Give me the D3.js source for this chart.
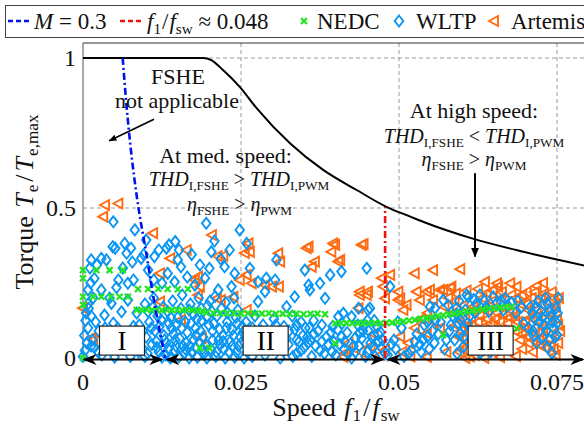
<!DOCTYPE html>
<html><head><meta charset="utf-8">
<script src="https://cdn.jsdelivr.net/npm/d3@7"></script>
<style>body{margin:0;background:#fff}</style>
</head><body><svg id="c" width="584" height="428" style="display:block"></svg>
<script>
// ---------- data ----------
const xTicks=[0,0.025,0.05,0.075];
const xTickLabels=["0","0.025","0.05","0.075"];
const yTicks=[0,0.5,1];
const yTickLabels=["0","0.5","1"];
// torque limit curve (speed, torque)
const limitCurve=[[0,1],[.019,1],[.0203,.993],[.02215,.96],[.0248,.904],[.0275,.832],[.03275,.716],[.038,.627],[.0433,.56],[.048,.504],[.0517,.472],[.0538,.454],[.0618,.397],[.0697,.354],[.075,.328],[.0795,.307]];
// modulation index M = 0.3 boundary
const mLine=[[.00628,1],[.0069,.838],[.0077,.671],[.00875,.504],[.0101,.338],[.0114,.171],[.013,0]];
const redX=0.0478, redTop=0.503;
const regionBounds=[0,0.0128,0.0478,0.08];
const regionLabels=["I","II","III"];
const regionLabelX=[0.00617,0.0289,0.0645];
const nedc=[
[0,0],[0,.293],[.0021,.293],[.0042,.293],[.0063,.293],[0,.266],
[0,.204],[.0016,.204],[.0029,.204],[.0044,.204],[.0058,.204],[.0071,.204],[0,.177],
[.0087,.23],[.0103,.23],[.0119,.231],[.0134,.23],[.015,.229],[.0166,.23],
[.0085,.16],[.0093,.16],[.0101,.161],[.0109,.16],[.0117,.16],[.0125,.159],[.0133,.16],[.0141,.16],[.0149,.16],[.0157,.159],[.0165,.16],[.0173,.16],[.0181,.158],[.0189,.157],
[.0195,.151],[.0206,.15],[.0217,.149],[.0228,.15],[.0239,.149],[.025,.148],[.0261,.149],[.0272,.148],[.0283,.148],[.0294,.149],[.0305,.147],[.0316,.148],[.0327,.147],[.0338,.148],[.0349,.146],[.036,.147],[.0371,.148],[.0383,.146],
[.0185,.033],[.02,.033],[.0399,.049],
[.0399,.116],[.0408,.116],[.0417,.117],[.0426,.116],[.0435,.116],[.0444,.117],[.0453,.116],[.0462,.117],[.0471,.116],[.048,.117],[.0489,.118],
[.0498,.12],[.0507,.122],[.0516,.125],[.0525,.127],[.0534,.131],[.0543,.133],[.0552,.136],[.0561,.14],[.057,.142],[.0579,.146],[.0588,.148],[.0597,.151],[.0606,.155],[.0615,.157],[.0624,.16],[.0633,.162],[.0642,.165],[.0651,.166],[.066,.168],[.0669,.17],[.0678,.171],
[.057,.077],[.0686,.099]
];
const wltp=[
[0,.005],[.0003,.025],[.0006,.05],[.0002,.075],[.0008,.1],[.0004,.125],[.0013,.14],[.0009,.165],[.0008,.18],[.0016,.2],[.0008,.227],[.0012,.25],[.0018,.265],[.0011,.3],[.0013,.327],[.0022,.31],[.0029,.332],[.0029,.227],[.0025,.09],[.0015,.06],[.003,.01],[.0005,.15],[.002,.12],[.0018,.035],
[.0034,.143],[.0037,.327],[.0045,.182],[.0047,.371],[.0048,.454],[.0048,.116],[.0051,.366],[.0056,.26],[.0061,.154],[.0066,.382],[.0069,.349],[.0071,.249],[.0071,.193],[.0076,.366],[.008,.26],[.0082,.427],[.0035,.1],[.0055,.1],[.008,.105],[.0087,.06],[.0088,.02],[.0075,.005],[.005,.003],[.0042,.2],[.0063,.3],[.0085,.15],[.0053,.235],[.0078,.32],
[.0092,.332],[.0096,.345],[.01,.393],[.0103,.293],[.0113,.338],[.012,.36],[.0132,.366],[.0136,.377],[.0134,.282],[.0145,.254],[.0146,.388],[.0152,.36],[.015,.327],[.0155,.304],[.0165,.27],[.0177,.243],[.0185,.31],[.0193,.266],[.0195,.449],[.02,.299],[.0203,.354],[.0214,.227],[.0218,.33],[.0224,.304],[.0235,.238],[.024,.282],[.0248,.427],[.0208,.39],[.0172,.345],[.0125,.25],[.0112,.26],[.0232,.36],
[.0125,.003],[.0138,0],[.0152,.004],[.0168,0],[.0181,.003],[.0196,0],[.021,.005],[.0225,0],[.024,.003],[.0255,0],
[.0095,.03],[.0109,.045],[.012,.02],[.0132,.05],[.0145,.025],[.0158,.04],[.0172,.02],[.0185,.05],[.0202,.03],[.0217,.045],[.0231,.02],[.0246,.04],
[.01,.07],[.0114,.09],[.0128,.075],[.014,.1],[.0153,.065],[.0165,.085],[.0178,.1],[.019,.07],[.0205,.09],[.0221,.075],[.0236,.095],[.0249,.07],
[.0105,.12],[.0118,.14],[.0124,.127],[.0136,.115],[.015,.135],[.0162,.12],[.0175,.145],[.0188,.125],[.0199,.11],[.0212,.14],[.0228,.12],[.0242,.135],
[.0098,.18],[.0112,.2],[.0127,.17],[.0142,.19],[.0157,.21],[.017,.18],[.0183,.2],[.0197,.175],[.0209,.205],[.0226,.185],[.0239,.2],
[.0131,.01],[.0146,.06],[.016,.015],[.0175,.06],[.0192,.015],[.0215,.06],[.0233,.055],[.0108,.1],[.0134,.155],[.0168,.16],[.0204,.155],[.0219,.165],[.0245,.16],[.0116,.055],[.0186,.09],
[.0102,.015],[.0117,.035],[.0129,.06],[.0143,.08],[.0156,.1],[.0169,.04],[.0179,.075],[.0194,.045],[.0207,.115],[.0223,.03],[.0238,.075],[.0252,.105],[.0103,.155],[.0121,.105],[.0139,.135],[.0155,.165],[.0171,.115],[.0187,.165],[.0201,.19],[.0216,.095],[.0229,.15],[.0244,.115],[.0111,.17],[.0148,.11],[.0163,.05],[.018,.13],[.0196,.135],[.0211,.02],[.0227,.1],[.0243,.02],
[.0013,.04],[.0024,.02],[.0038,.06],[.0062,.07],[.0072,.04],[.0089,.11],[.0095,.09],[.0098,.005],[.0135,.03],[.0147,.04],[.0162,.03],[.0178,.035],[.0189,.03],[.0205,.06],[.0222,.055],[.0236,.04],[.025,.05],[.0253,.085],
[.026,.02],[.0275,.04],[.0288,.01],[.03,.03],[.0312,0],[.0325,.045],[.0338,.015],[.035,.035],[.0362,.005],[.0375,.025],[.0388,.045],[.04,.01],[.0413,.03],[.0425,0],[.0437,.04],[.045,.02],[.0462,.005],[.0472,.035],
[.0265,.07],[.0282,.09],[.0295,.06],[.0308,.085],[.0322,.065],[.0335,.095],[.0348,.075],[.036,.06],[.0372,.09],[.0385,.07],[.0397,.054],[.0418,.085],[.043,.065],[.0443,.09],[.0457,.07],[.0468,.055],
[.0258,.12],[.0272,.14],[.0285,.11],[.0302,.13],[.0318,.105],[.0331,.14],[.0345,.12],[.0358,.1],[.0404,.138],[.0425,.138],[.0435,.11],[.045,.125],[.0465,.105],
[.0268,.005],[.0318,.025],[.0342,.055],[.0368,.04],[.0394,.02],[.0431,.02],[.0455,.05],[.0478,.015],[.0292,.035],
[.0332,.005],[.0345,.025],[.0356,.05],[.0365,.08],[.0378,.055],[.0382,.015],[.0392,.085],[.0406,.045],[.0409,.07],[.042,.015],[.0428,.04],[.0441,.065],[.0447,.005],[.0459,.035],[.0467,.08],[.0474,.06],[.0352,.1],[.0365,.125],[.0378,.11],[.0395,.105],[.041,.115],[.0445,.11],[.0461,.125],[.0326,.09],[.0338,.11],
[.0268,.1],[.0285,.06],[.0299,.08],[.0315,.05],[.0305,.11],[.0338,.06],[.0355,.07],[.0403,.095],[.0414,.055],[.0438,.085],[.0452,.09],[.0471,.085],
[.0259,.382],[.0264,.299],[.0277,.254],[.029,.266],[.0304,.26],[.0306,.327],[.0288,.221],[.0277,.188],[.0322,.171],[.0335,.204],[.0351,.293],[.0357,.243],[.0359,.227],[.0375,.249],[.0383,.199],[.0391,.277],[.0409,.288],[.0412,.149],[.0436,.166],[.0449,.299],[.0454,.166],[.0486,.238],[.0451,.16],
[.0482,.01],[.0495,.03],[.0508,.005],[.052,.025],[.0533,.045],[.0545,.07],[.0553,.09],[.0538,.06],[.0528,.08],[.0548,.03],[.0556,.05],[.0515,.015],[.0488,.045],[.0557,.166],[.0549,.171],[.0504,.1],[.054,.11],[.0558,.127],[.0545,.12],[.0562,.08],[.0535,.02],[.0498,.12],[.0492,.06],[.0525,.055],
[.057,.193],[.0591,.166],[.0594,.116],[.0597,.082],[.0602,.038],[.0628,.016],[.061,.204],[.0628,.21],[.0649,.204],[.0668,.199],[.0607,.21],[.0597,.127],[.0603,.1],[.0615,.06],[.0585,.14],[.058,.09],[.0575,.06],[.0566,.12],[.0622,.18],[.0638,.17],[.0655,.185],[.0672,.175],[.0688,.19],[.0697,.116],[.0685,.15],[.0632,.045],[.0645,.02],[.066,.035],[.0612,.14],
[.0578,.175],[.0595,.19],[.0618,.195],[.0635,.19],[.0662,.19],[.0678,.185],[.0592,.145],[.0605,.16],[.062,.15],[.0642,.155],[.0665,.16],[.0694,.17],[.0582,.11],[.0608,.115],[.0588,.06],[.0602,.07],[.0572,.03],[.0592,.015],[.0618,.03],
[.0708,.17],[.0715,.13],[.0712,.09],[.072,.19],[.0725,.155],[.073,.11],[.0728,.07],[.0735,.18],[.074,.14],[.0745,.1],[.0738,.06],[.0748,.165],[.075,.116],[.075,.077],[.0742,.016],[.0752,.2],[.0718,.05],[.0732,.2],
[.0711,.15],[.0722,.12],[.0733,.09],[.0743,.12],[.0751,.15],[.0717,.17],[.0737,.16],[.0727,.135],[.0747,.07],[.0705,.1],[.0713,.075],[.0735,.035]
];
const artemis=[
[.0035,.51],[.0056,.515],[.0032,.471],[.0111,.416],[.0204,.41],[.0164,.36],[.0138,.332],[.0222,.34],[.0213,.34],[.0182,.271],[.0185,.238],[.0177,.26],[.0122,.282],[.0016,.06],[.0013,.066],[0,.166],[.0188,.067],[.0155,.127],[.0218,.193],[.0238,.204],[.0122,.188],[.0182,.21],[.0212,.199],[.0248,.26],[.0256,.35],
[.0262,.382],[.0264,.354],[.0309,.349],[.0312,.321],[.0354,.366],[.0357,.371],[.0396,.382],[.0399,.377],[.0393,.354],[.0367,.321],[.0362,.304],[.0407,.327],[.0404,.321],[.0441,.377],[.0444,.38],[.0267,.249],[.0288,.243],[.0299,.238],[.031,.238],[.0259,.277],[.0259,.16],[.0438,.21],[.0449,.21],[.0438,.221],[.0451,.221],[.0473,.266],[.0475,.238],[.0478,.199],[.0436,.166],[.0415,.016],[.0412,.004],[.0478,.027],[.042,.05],[.044,.02],[.046,.08],[.047,.01],[.0455,.04],[.0486,.277],
[.0499,.221],[.0502,.199],[.0499,.193],[.0512,.177],[.0507,.16],[.0502,.071],[.0525,.282],[.0554,.293],[.0597,.296],[.0528,.221],[.0544,.221],[.0549,.227],[.0565,.227],[.057,.227],[.0581,.233],[.0583,.238],[.0533,.193],[.0554,.193],[.0544,.082],[.0544,.004],[.0505,.02],[.0515,.05],[.0525,.1],[.0535,.13],[.0545,.15],[.0555,.12],[.0565,.1],[.0575,.02],[.0518,.005],
[.0636,.254],[.0655,.249],[.0676,.249],[.0686,.238],[.0657,.238],[.0639,.216],[.0618,.171],[.0747,.171],
[.0585,.15],[.059,.11],[.0595,.07],[.06,.03],[.0605,.13],[.061,.09],[.0615,.05],[.062,.01],[.0625,.12],[.063,.08],[.0588,.19],[.0602,.175],[.0618,.16],
[.0635,.16],[.064,.13],[.0648,.19],[.0655,.15],[.066,.12],[.0668,.17],[.0675,.135],[.068,.155],[.0688,.12],[.0645,.115],[.0662,.2],[.0678,.21],[.0632,.2],[.0692,.18],
[.0612,.005],[.0635,0],[.066,.003],[.0685,.006],[.0695,.03],[.0605,0],
[.0695,.08],[.07,.12],[.0705,.16],[.071,.2],[.0715,.1],[.072,.14],[.0725,.18],[.073,.215],[.0735,.125],[.074,.16],[.0745,.2],[.0705,.05],[.0712,.02],[.0722,.06],[.0732,.035],[.0742,.08],[.075,.13],[.0752,.05],[.0748,.01],[.0702,.22],[.0718,.24],[.0728,.25],
[.0598,.09],[.0608,.05],[.0622,.09],[.0628,.14],[.0642,.17],[.0652,.13],[.0664,.145],[.0672,.115],[.0684,.14],[.0698,.1],[.0708,.135],[.0718,.16],[.0728,.1],[.0738,.14],[.0748,.18],[.0702,.18],[.0712,.06],[.0725,.04],[.0738,.065],[.0745,.03],[.0692,.06],[.0596,.02],[.0609,.11],[.0628,.04],[.0755,.09],[.0753,.2],[.0742,.22],[.0733,.19],
[.0615,.11],[.0632,.1],[.065,.095],[.0668,.09],[.0688,.085],[.0705,.07],[.0722,.085],[.074,.045],[.0752,.11],[.0725,.2],[.0715,.22],[.0695,.21],[.0685,.2],[.0663,.22],[.0648,.225],[.0625,.23],[.0607,.225],[.059,.215],[.0578,.2],[.0572,.17]
];

// ---------- drawing ----------
const FONT="'Liberation Serif', serif";
const svg=d3.select("#c");
const x=d3.scaleLinear().domain([0,0.08]).range([83,588.6]);
const y=d3.scaleLinear().domain([0,1.05]).range([358,43]);
const BLUE="#0a96f2", ORANGE="#ff6a10", GREEN="#22e622";
const diamond="M0,-5.5L4.3,0L0,5.5L-4.3,0Z", tri="M-5,0L4,-5L4,5Z", cross="M-3,-3L3,3M-3,3L3,-3";

const defs=svg.append("defs");
defs.append("marker").attr("id","ah").attr("viewBox","0 0 10 10").attr("refX",9).attr("refY",5)
 .attr("markerWidth",5).attr("markerHeight",5).attr("orient","auto-start-reverse").attr("markerUnits","strokeWidth")
 .append("path").attr("d","M0,1L10,5L0,9Z").attr("fill","#000");
defs.append("marker").attr("id","ah2").attr("viewBox","0 0 10 10").attr("refX",9).attr("refY",5)
 .attr("markerWidth",7).attr("markerHeight",7).attr("orient","auto-start-reverse").attr("markerUnits","strokeWidth")
 .append("path").attr("d","M0,1L10,5L0,9L3,5Z").attr("fill","#000");

// grid
const grid=svg.append("g").attr("stroke","#9a9a9a").attr("stroke-width",1).attr("stroke-dasharray","4,3");
xTicks.filter(d=>d>0).forEach(d=>grid.append("line").attr("x1",x(d)).attr("x2",x(d)).attr("y1",y(1.05)).attr("y2",y(0)));
yTicks.filter(d=>d>0).forEach(d=>grid.append("line").attr("x1",x(0)).attr("x2",584).attr("y1",y(d)).attr("y2",y(d)));

// frame
svg.append("line").attr("x1",x(0)).attr("x2",584).attr("y1",y(1.05)).attr("y2",y(1.05)).attr("stroke","#333");
svg.append("line").attr("x1",x(0)).attr("x2",x(0)).attr("y1",y(1.05)).attr("y2",y(0)+2).attr("stroke","#555");

// tick labels
const tl=svg.append("g").attr("font-size",24).attr("fill","#111");
xTicks.forEach((d,i)=>tl.append("text").attr("x",x(d)).attr("y",y(0)+32).attr("text-anchor","middle").text(xTickLabels[i]));
yTicks.forEach((d,i)=>tl.append("text").attr("x",x(0)-7).attr("y",y(d)+8).attr("text-anchor","end").text(yTickLabels[i]));

// scatter
const sc=svg.append("g").attr("fill","none");
sc.selectAll(".a").data(artemis).join("path").attr("d",tri).attr("stroke",ORANGE).attr("stroke-width",1.9)
  .attr("transform",d=>`translate(${x(d[0])},${y(d[1])})`);
sc.selectAll(".w").data(wltp).join("path").attr("d",diamond).attr("stroke",BLUE).attr("stroke-width",1.9)
  .attr("transform",d=>`translate(${x(d[0])},${y(d[1])})`);
sc.selectAll(".n").data(nedc).join("path").attr("d",cross).attr("stroke",GREEN).attr("stroke-width",2.2)
  .attr("transform",d=>`translate(${x(d[0])},${y(d[1])})`);

// curves
const line=d3.line().x(d=>x(d[0])).y(d=>y(d[1]));
svg.append("path").datum(limitCurve).attr("d",line.curve(d3.curveMonotoneX)).attr("fill","none").attr("stroke","#000").attr("stroke-width",2);
svg.append("path").datum(mLine).attr("d",d3.line().x(d=>x(d[0])).y(d=>y(d[1])).curve(d3.curveCatmullRom)).attr("fill","none")
  .attr("stroke","#0010ee").attr("stroke-width",2.6).attr("stroke-dasharray","7,3,2,3");
svg.append("line").attr("x1",x(redX)).attr("x2",x(redX)).attr("y1",y(0)).attr("y2",y(redTop))
  .attr("stroke","#ee1111").attr("stroke-width",2.6).attr("stroke-dasharray","7,3,2,3");

// region arrows along zero line
const ay=y(0)+1.5;
[[regionBounds[0],regionBounds[1]-0.0003],[regionBounds[1]+0.0003,regionBounds[2]-0.0003],[regionBounds[2]+0.0003,regionBounds[3]]].forEach(r=>{
  svg.append("line").attr("x1",x(r[0])+1).attr("x2",Math.min(x(r[1]),583)).attr("y1",ay).attr("y2",ay)
   .attr("stroke","#000").attr("stroke-width",2).attr("marker-start","url(#ah2)").attr("marker-end","url(#ah2)");
});

// region boxes
regionLabels.forEach((t,i)=>{
  const cx=x(regionLabelX[i]), cy=y(0.058);
  svg.append("rect").attr("x",cx-22.5).attr("y",cy-14.5).attr("width",45).attr("height",29).attr("fill","#fff").attr("stroke","#222").attr("stroke-width",1.2);
  svg.append("text").attr("x",cx).attr("y",cy+9).attr("text-anchor","middle").attr("font-size",27).text(t);
});

// rich text helper
function rich(g,parts,size){
  const t=g.append("text").attr("font-size",size).attr("fill","#111");
  let shift=0;
  parts.forEach(p=>{
    const s=p.sub?size*0.2:0;
    const ts=t.append("tspan").text(p.t).attr("dy",s-shift);
    shift=s;
    if(p.sub) ts.attr("font-size",size*0.66);
    if(p.i) ts.attr("font-style","italic");
    if(p.dx) ts.attr("dx",p.dx);
  });
  return t;
}

// annotations
const an=svg.append("g");
function label(txt,xv,yv,size){an.append("text").attr("x",x(xv)).attr("y",y(yv)).attr("text-anchor","middle").attr("font-size",size).attr("fill","#111").text(txt);}
label("FSHE",0.01503,0.913,22);
label("not applicable",0.01487,0.833,22);
label("At med. speed:",0.02255,0.65,22);
label("At high speed:",0.06187,0.8,22);
const thdGt=[{t:"THD",i:true},{t:"I,FSHE",sub:true},{t:" > "},{t:"THD",i:true},{t:"I,PWM",sub:true}];
const thdLt=[{t:"THD",i:true},{t:"I,FSHE",sub:true},{t:" < "},{t:"THD",i:true},{t:"I,PWM",sub:true}];
const etaGt=[{t:"η",i:true},{t:"FSHE",sub:true},{t:" > "},{t:"η",i:true},{t:"PWM",sub:true}];
rich(an,thdGt,20).attr("x",x(0.02468)).attr("y",y(0.572)).attr("text-anchor","middle");
rich(an,etaGt,20).attr("x",x(0.02476)).attr("y",y(0.49)).attr("text-anchor","middle");
rich(an,thdLt,20).attr("x",x(0.06187)).attr("y",y(0.716)).attr("text-anchor","middle");
rich(an,etaGt,20).attr("x",x(0.06187)).attr("y",y(0.64)).attr("text-anchor","middle");
an.append("line").attr("x1",x(0.01123)).attr("y1",y(0.796)).attr("x2",x(0.00416)).attr("y2",y(0.724))
  .attr("stroke","#000").attr("stroke-width",1.6).attr("marker-end","url(#ah)");
an.append("line").attr("x1",x(0.06203)).attr("y1",y(0.616)).attr("x2",x(0.06203)).attr("y2",y(0.338))
  .attr("stroke","#000").attr("stroke-width",2).attr("marker-end","url(#ah)");

// axis labels
rich(svg,[{t:"Speed "},{t:"f",i:true,dx:2},{t:"1",sub:true,dx:1},{t:"/",dx:2},{t:"f",i:true,dx:2},{t:"sw",sub:true,dx:1}],26)
  .attr("text-anchor","middle").attr("transform","translate(336,416)");
rich(svg,[{t:"Torque "},{t:"T",i:true,dx:2},{t:"e",sub:true,dx:1},{t:"/",dx:3},{t:"T",i:true,dx:3},{t:"e,max",sub:true,dx:1}],26)
  .attr("text-anchor","middle").attr("transform","translate(33,202) rotate(-90)");

// legend
const lg=svg.append("g");
lg.append("rect").attr("x",5.5).attr("y",5.5).attr("width",620).attr("height",32).attr("fill","#fff").attr("stroke","#444");
const ly=21;
lg.append("line").attr("x1",8).attr("x2",32).attr("y1",ly).attr("y2",ly).attr("stroke","#0010ee").attr("stroke-width",2.5).attr("stroke-dasharray","5,3");
rich(lg,[{t:"M",i:true},{t:" = 0.3"}],23).attr("x",34).attr("y",ly+8);
lg.append("line").attr("x1",120).attr("x2",144).attr("y1",ly).attr("y2",ly).attr("stroke","#ee1111").attr("stroke-width",2.5).attr("stroke-dasharray","5,3");
rich(lg,[{t:"f",i:true},{t:"1",sub:true},{t:"/",dx:1},{t:"f",i:true,dx:1},{t:"sw",sub:true},{t:" ≈ 0.048"}],23).attr("x",147).attr("y",ly+8);
lg.append("path").attr("d",cross).attr("transform",`translate(304,${ly})`).attr("stroke",GREEN).attr("stroke-width",2.2).attr("fill","none");
lg.append("text").attr("x",317).attr("y",ly+8).attr("font-size",23).attr("fill","#111").text("NEDC");
lg.append("path").attr("d",diamond).attr("transform",`translate(399,${ly})`).attr("stroke",BLUE).attr("stroke-width",1.9).attr("fill","none");
lg.append("text").attr("x",416).attr("y",ly+8).attr("font-size",23).attr("fill","#111").text("WLTP");
lg.append("path").attr("d",tri).attr("transform",`translate(494,${ly})`).attr("stroke",ORANGE).attr("stroke-width",1.9).attr("fill","none");
lg.append("text").attr("x",511).attr("y",ly+8).attr("font-size",23).attr("fill","#111").text("Artemis");

// serif font for every text
svg.selectAll("text").style("font-family",FONT);
</script></body></html>
